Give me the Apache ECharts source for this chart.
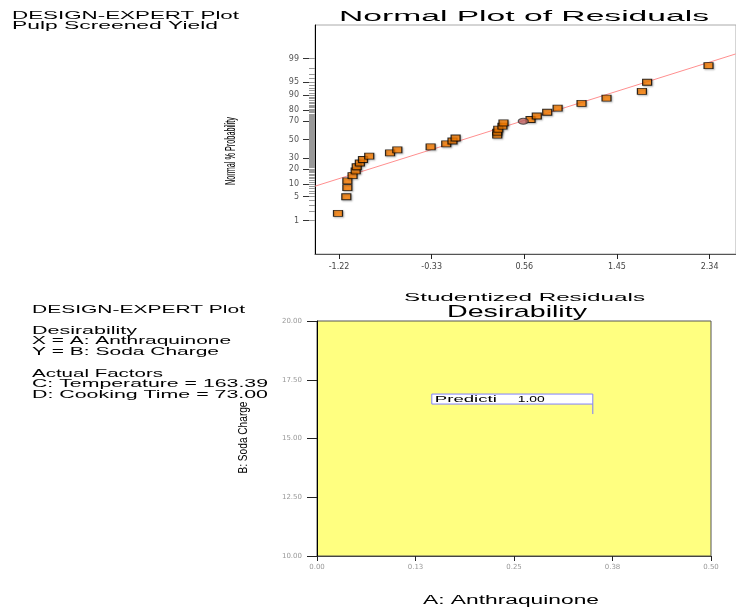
<!DOCTYPE html>
<html>
<head>
<meta charset="utf-8">
<title>Normal Plot of Residuals / Desirability</title>
<script src="https://cdn.jsdelivr.net/npm/echarts@6/dist/echarts.min.js"></script>
<style>
html, body { margin: 0; padding: 0; background: #fff; }
#main { width: 736px; height: 607px; }
</style>
</head>
<body>
<div id="main"></div>
<script>
// normal plot of residuals (sorted by rank)
var residuals = [-1.23, -1.15, -1.14, -1.14, -1.09, -1.06, -1.05, -1.02, -0.99, -0.93,
                 -0.73, -0.66, -0.34, -0.19, -0.13, -0.10, 0.30, 0.30, 0.31, 0.35,
                 0.36, 0.62, 0.68, 0.78, 0.88, 1.11, 1.35, 1.69, 1.74, 2.33];
var normalPct = [1.7, 5.0, 8.3, 11.7, 15.0, 18.3, 21.7, 25.0, 28.3, 31.7,
                 35.0, 38.3, 41.7, 45.0, 48.3, 51.7, 55.0, 58.3, 61.7, 65.0,
                 68.3, 71.7, 75.0, 78.3, 81.7, 85.0, 88.3, 91.7, 95.0, 98.3];
var selectedPoint = [0.55, 70.0];
var fitLineX = [-1.45, 2.59];
var fitLinePct = [9.0, 99.3];
var residualTicks = [-1.22, -0.33, 0.56, 1.45, 2.34];
var residualTickLabels = ['-1.22', '-0.33', '0.56', '1.45', '2.34'];
var pctTicks = [1, 5, 10, 20, 30, 50, 70, 80, 90, 95, 99];
var pctTickLabels = ['1', '5', '10', '20', '30', '50', '70', '80', '90', '95', '99'];

// desirability plot
var aqTicks = [0, 0.125, 0.25, 0.375, 0.5];
var aqTickLabels = ['0.00', '0.13', '0.25', '0.38', '0.50'];
var sodaTicks = [10, 12.5, 15, 17.5, 20];
var sodaTickLabels = ['10.00', '12.50', '15.00', '17.50', '20.00'];
var flagPoint = [0.35, 16.04];
var flagLabel = 'Predicti';
var flagValue = '1.00';

// inverse normal cdf (Acklam), used for the probability scale
function probit(p) {
	var a = [-3.969683028665376e+01, 2.209460984245205e+02, -2.759285104469687e+02, 1.383577518672690e+02, -3.066479806614716e+01, 2.506628277459239e+00];
	var b = [-5.447609879822406e+01, 1.615858368580409e+02, -1.556989798598866e+02, 6.680131188771972e+01, -1.328068155288572e+01];
	var c = [-7.784894002430293e-03, -3.223964580411365e-01, -2.400758277161838e+00, -2.549732539343734e+00, 4.374664141464968e+00, 2.938163982698783e+00];
	var d = [7.784695709041462e-03, 3.224671290700398e-01, 2.445134137142996e+00, 3.754408661907416e+00];
	var pl = 0.02425, q, r;
	if (p < pl) {
		q = Math.sqrt(-2 * Math.log(p));
		return (((((c[0]*q+c[1])*q+c[2])*q+c[3])*q+c[4])*q+c[5]) / ((((d[0]*q+d[1])*q+d[2])*q+d[3])*q+1);
	}
	if (p > 1 - pl) {
		q = Math.sqrt(-2 * Math.log(1 - p));
		return -(((((c[0]*q+c[1])*q+c[2])*q+c[3])*q+c[4])*q+c[5]) / ((((d[0]*q+d[1])*q+d[2])*q+d[3])*q+1);
	}
	q = p - 0.5; r = q * q;
	return (((((a[0]*r+a[1])*r+a[2])*r+a[3])*r+a[4])*r+a[5])*q / (((((b[0]*r+b[1])*r+b[2])*r+b[3])*r+b[4])*r+1);
}
function zOf(pct) { return probit(pct / 100); }

function labelFor(ticks, labels) {
	return function (v) {
		for (var i = 0; i < ticks.length; i++) {
			if (Math.abs(ticks[i] - v) < 1e-6) return labels[i];
		}
		return '';
	};
}

var pctTicksZ = pctTicks.map(zOf);
var minorTicksZ = [];
for (var k = 1; k <= 99; k++) minorTicksZ.push(zOf(k));

// stretched text like the original printout
var FONT = '"Liberation Sans", Arial, sans-serif';
var measureCtx = document.createElement('canvas').getContext('2d');
function stretchX(str, size, width) {
	measureCtx.font = size + 'px ' + FONT;
	return width / measureCtx.measureText(str).width;
}
function txt(str, left, midY, width, size) {
	return {
		type: 'text', x: left, y: midY, scaleX: stretchX(str, size, width), silent: true,
		style: { text: str, fontSize: size, fontFamily: FONT, fill: '#000',
			align: 'left', verticalAlign: 'middle', textAlign: 'left', textVerticalAlign: 'middle' }
	};
}
function vtxt(str, cx, cy, length, size) {
	return {
		type: 'text', x: cx, y: cy, rotation: Math.PI / 2, scaleX: stretchX(str, size, length), silent: true,
		style: { text: str, fontSize: size, fontFamily: FONT, fill: '#000',
			align: 'center', verticalAlign: 'middle', textAlign: 'center', textVerticalAlign: 'middle' }
	};
}

var tickFont = { fontFamily: 'DejaVu Sans', fontSize: 8 };

var myChart = echarts.init(document.getElementById('main'));

var option = {
	animation: false,
	backgroundColor: '#fff',
	grid: [{
		left: 315, top: 25, width: 425, height: 229,
		show: true, borderColor: '#aaa', borderWidth: 1
	}, {
		left: 317, top: 321, width: 394, height: 235,
		show: true, backgroundColor: '#ffff80', borderColor: '#555', borderWidth: 1
	}],
	xAxis: [{
		gridIndex: 0, type: 'value', min: -1.451, max: 2.594,
		axisLine: { onZero: false, lineStyle: { color: '#555' } },
		axisTick: { customValues: residualTicks, length: 5, lineStyle: { color: '#222' } },
		axisLabel: { customValues: residualTicks, formatter: labelFor(residualTicks, residualTickLabels),
			margin: 9, color: '#444', fontFamily: tickFont.fontFamily, fontSize: tickFont.fontSize },
		splitLine: { show: false }
	}, {
		gridIndex: 1, type: 'value', min: 0, max: 0.5,
		axisLine: { onZero: false, lineStyle: { color: '#444' } },
		axisTick: { customValues: aqTicks, length: 5, lineStyle: { color: '#222' } },
		axisLabel: { customValues: aqTicks, formatter: labelFor(aqTicks, aqTickLabels),
			margin: 8, color: '#999', fontFamily: tickFont.fontFamily, fontSize: 7 },
		splitLine: { show: false }
	}],
	yAxis: [{
		gridIndex: 0, type: 'value', min: -3.29, max: 3.29,
		axisLine: { onZero: false, lineStyle: { color: '#000' } },
		axisTick: { customValues: pctTicksZ, length: 12, lineStyle: { color: '#333' } },
		axisLabel: { customValues: pctTicksZ, formatter: labelFor(pctTicksZ, pctTickLabels),
			margin: 16, color: '#555', fontFamily: tickFont.fontFamily, fontSize: tickFont.fontSize },
		splitLine: { show: false }
	}, {
		gridIndex: 0, type: 'value', min: -3.29, max: 3.29, position: 'left',
		axisLine: { show: false, onZero: false },
		axisTick: { customValues: minorTicksZ, length: 6, lineStyle: { color: '#999' } },
		axisLabel: { show: false },
		splitLine: { show: false }
	}, {
		gridIndex: 1, type: 'value', min: 10, max: 20,
		axisLine: { onZero: false, lineStyle: { color: '#000' } },
		axisTick: { customValues: sodaTicks, length: 10, lineStyle: { color: '#222' } },
		axisLabel: { customValues: sodaTicks, formatter: labelFor(sodaTicks, sodaTickLabels),
			margin: 15, color: '#999', fontFamily: tickFont.fontFamily, fontSize: 7 },
		splitLine: { show: false }
	}],
	series: [{
		name: 'fit',
		type: 'line',
		xAxisIndex: 0, yAxisIndex: 0,
		data: [[fitLineX[0], zOf(fitLinePct[0])], [fitLineX[1], zOf(fitLinePct[1])]],
		symbol: 'none',
		lineStyle: { color: '#ff8f8f', width: 1 },
		z: 2
	}, {
		name: 'Residuals',
		type: 'scatter',
		xAxisIndex: 0, yAxisIndex: 0,
		data: residuals.map(function (x, i) { return [x, zOf(normalPct[i])]; }),
		symbol: 'rect',
		symbolSize: [9, 6],
		itemStyle: {
			color: '#ff8000', borderColor: '#000', borderWidth: 1,
			shadowColor: 'rgba(0,0,0,0.3)', shadowBlur: 2, shadowOffsetX: 1, shadowOffsetY: 1
		},
		z: 3
	}, {
		name: 'Selected',
		type: 'scatter',
		xAxisIndex: 0, yAxisIndex: 0,
		data: [[selectedPoint[0], zOf(selectedPoint[1])]],
		symbol: 'circle',
		symbolSize: [10, 6],
		itemStyle: { color: '#b85c5c', borderColor: '#333', borderWidth: 1 },
		z: 3
	}, {
		name: 'Prediction',
		type: 'custom',
		xAxisIndex: 1, yAxisIndex: 2,
		data: [flagPoint],
		renderItem: function (params, api) {
			var p = api.coord([api.value(0), api.value(1)]);
			var bw = 161, bh = 10, gap = 10;
			var left = p[0] - bw, top = p[1] - gap - bh;
			return {
				type: 'group',
				children: [
					{ type: 'line', shape: { x1: p[0], y1: p[1] - gap, x2: p[0], y2: p[1] },
						style: { stroke: '#7a7aff', lineWidth: 1 } },
					{ type: 'rect', shape: { x: left, y: top, width: bw, height: bh },
						style: { fill: '#fff', stroke: '#8080ff', lineWidth: 1 } },
					{ type: 'text', x: left + 3, y: top + bh / 2 + 0.5, scaleX: stretchX(flagLabel, 9, 62),
						style: { text: flagLabel, fontSize: 9, fontFamily: FONT, fill: '#000',
							align: 'left', verticalAlign: 'middle' } },
					{ type: 'text', x: left + 86, y: top + bh / 2 + 0.5, scaleX: stretchX(flagValue, 9, 27),
						style: { text: flagValue, fontSize: 9, fontFamily: FONT, fill: '#000',
							align: 'left', verticalAlign: 'middle' } }
				]
			};
		},
		z: 4
	}],
	graphic: [
		txt('DESIGN-EXPERT Plot', 12, 16.5, 227, 10),
		txt('Pulp Screened Yield', 12, 26, 206, 10),
		txt('Normal Plot of Residuals', 339, 17.5, 370, 14),
		vtxt('Normal % Probability', 231.5, 151, 68, 14),
		txt('Studentized Residuals', 404, 298, 241, 11),
		txt('Desirability', 447, 312, 140, 17),
		txt('DESIGN-EXPERT Plot', 32, 310, 213, 10),
		txt('Desirability', 32, 331, 105, 10),
		txt('X = A: Anthraquinone', 32, 341.5, 199, 10),
		txt('Y = B: Soda Charge', 32, 352, 187, 10),
		txt('Actual Factors', 32, 374.5, 131, 10),
		txt('C: Temperature = 163.39', 32, 384.7, 236, 10),
		txt('D: Cooking Time = 73.00', 32, 395, 236, 10),
		vtxt('B: Soda Charge', 243, 437.5, 72, 13),
		txt('A: Anthraquinone', 423, 601, 176, 12)
	]
};

myChart.setOption(option);
</script>
</body>
</html>
